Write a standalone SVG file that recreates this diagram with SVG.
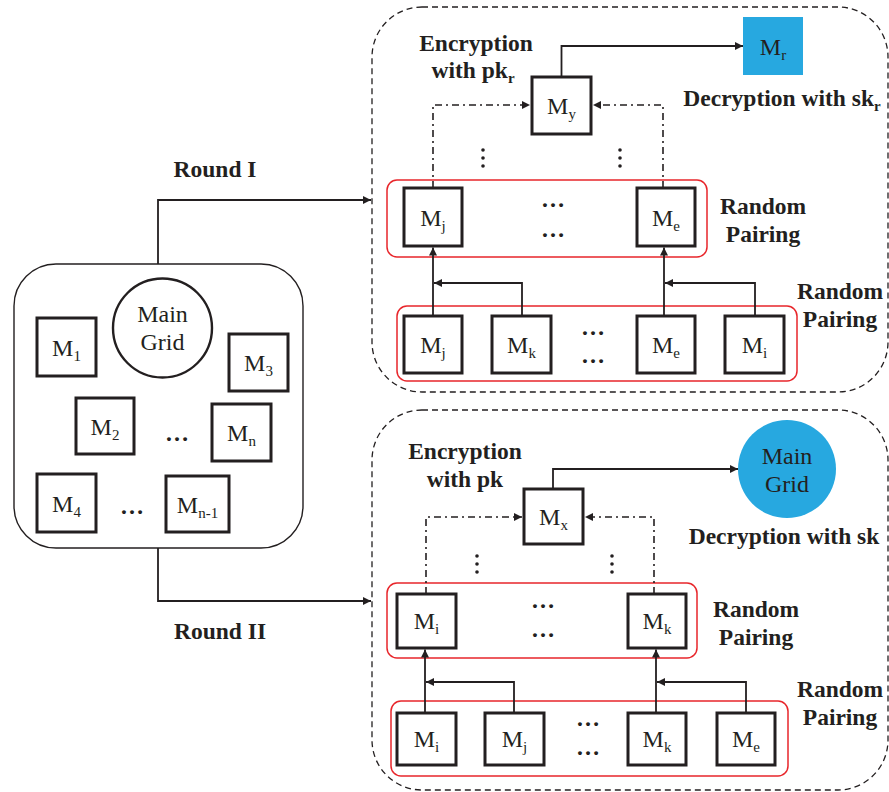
<svg xmlns="http://www.w3.org/2000/svg" width="889" height="792" viewBox="0 0 889 792">
  <style>
    .bg { fill: #ffffff; }
    .frame { fill: none; stroke: #231f20; stroke-width: 1.4; }
    .dashed { fill: none; stroke: #231f20; stroke-width: 1.3; stroke-dasharray: 6 4; }
    .pair { fill: none; stroke: #e8262b; stroke-width: 1.5; }
    .node { fill: #ffffff; stroke: #231f20; stroke-width: 3; }
    .blue { fill: #27a8e0; }
    .wire { fill: none; stroke: #231f20; stroke-width: 1.8; }
    .dashdot { fill: none; stroke: #231f20; stroke-width: 1.6; stroke-dasharray: 7 4 2 4; }
    .m { font-family: "Liberation Serif", "Times New Roman", serif; font-size: 24px; fill: #231f20; text-anchor: middle; }
    .sub { font-size: 15px; }
    .lbl { font-family: "Liberation Serif", "Times New Roman", serif; font-size: 23.5px; font-weight: bold; fill: #231f20; text-anchor: middle; }
    .ell { font-family: "Liberation Serif", "Times New Roman", serif; font-size: 24px; font-weight: bold; fill: #231f20; text-anchor: middle; }
    .vd { fill: #231f20; }
  </style>
  <defs>
    <marker id="arrow" viewBox="0 0 10 10" refX="10" refY="5" markerWidth="10" markerHeight="8" markerUnits="userSpaceOnUse" orient="auto">
      <path d="M0,0 L10,5 L0,10 z" fill="#231f20"/>
    </marker>
  </defs>

  <rect class="bg" x="0" y="0" width="889" height="792"/>

  <!-- grid of microgrids on the left -->
  <g id="grid">
    <rect class="frame" x="14" y="264" width="289" height="284" rx="42"/>
    <g id="main-grid">
      <circle class="node" cx="162.5" cy="328" r="49.5" style="stroke-width:2.4"/>
      <text class="m" x="162.5" y="322">Main</text>
      <text class="m" x="162.5" y="350">Grid</text>
    </g>
    <g id="m1"><rect class="node" x="37" y="318" width="59" height="58"/><text class="m" x="66.5" y="356">M<tspan class="sub" dy="5">1</tspan></text></g>
    <g id="m3"><rect class="node" x="229" y="334" width="59" height="57"/><text class="m" x="258.5" y="371">M<tspan class="sub" dy="5">3</tspan></text></g>
    <g id="m2"><rect class="node" x="76" y="398" width="58" height="56"/><text class="m" x="105" y="435">M<tspan class="sub" dy="5">2</tspan></text></g>
    <g id="mn"><rect class="node" x="212" y="404" width="59" height="57"/><text class="m" x="241.5" y="441">M<tspan class="sub" dy="5">n</tspan></text></g>
    <g id="m4"><rect class="node" x="37" y="474" width="59" height="58"/><text class="m" x="66.5" y="512">M<tspan class="sub" dy="5">4</tspan></text></g>
    <g id="mn1"><rect class="node" x="166" y="476" width="63" height="56"/><text class="m" x="197.5" y="513">M<tspan class="sub" dy="5">n-1</tspan></text></g>
    <text class="ell" x="177" y="441">…</text>
    <text class="ell" x="132" y="514">…</text>
  </g>

  <!-- round I cluster -->
  <g id="round1">
    <rect class="dashed" x="372" y="7" width="516" height="385" rx="50"/>
    <rect class="pair" x="387" y="180" width="320" height="77" rx="10"/>
    <rect class="pair" x="397" y="306" width="400" height="75" rx="10"/>
    <g id="my"><rect class="node" x="532" y="77" width="59" height="57"/><text class="m" x="561.5" y="114">M<tspan class="sub" dy="5">y</tspan></text></g>
    <g id="mr"><rect class="blue" x="743" y="17" width="60" height="58"/><text class="m" x="773" y="55">M<tspan class="sub" dy="5">r</tspan></text></g>
    <g id="mj-u1"><rect class="node" x="404" y="188" width="58" height="58"/><text class="m" x="433" y="226">M<tspan class="sub" dy="5">j</tspan></text></g>
    <g id="me-u1"><rect class="node" x="637" y="188" width="58" height="58"/><text class="m" x="666" y="226">M<tspan class="sub" dy="5">e</tspan></text></g>
    <g id="mj-1"><rect class="node" x="404" y="316" width="58" height="57"/><text class="m" x="433" y="353">M<tspan class="sub" dy="5">j</tspan></text></g>
    <g id="mk-1"><rect class="node" x="492" y="316" width="59" height="57"/><text class="m" x="521.5" y="353">M<tspan class="sub" dy="5">k</tspan></text></g>
    <g id="me-1"><rect class="node" x="637" y="316" width="58" height="57"/><text class="m" x="666" y="353">M<tspan class="sub" dy="5">e</tspan></text></g>
    <g id="mi-1"><rect class="node" x="725" y="316" width="59" height="57"/><text class="m" x="754.5" y="353">M<tspan class="sub" dy="5">i</tspan></text></g>
    <text class="ell" x="553" y="207">…</text>
    <text class="ell" x="553" y="237">…</text>
    <text class="ell" x="593" y="335">…</text>
    <text class="ell" x="593" y="363">…</text>
    <text class="lbl" x="476" y="51">Encryption</text>
    <text class="lbl" x="473" y="78">with pk<tspan class="sub" dy="5" style="font-size:15px">r</tspan></text>
    <text class="lbl" x="782" y="106">Decryption with sk<tspan class="sub" dy="5" style="font-size:15px">r</tspan></text>
    <text class="lbl" x="763" y="214">Random</text>
    <text class="lbl" x="763" y="242">Pairing</text>
    <text class="lbl" x="840" y="299">Random</text>
    <text class="lbl" x="840" y="327">Pairing</text>
    <g class="vd">
      <circle cx="483" cy="150" r="1.8"/><circle cx="483" cy="158" r="1.8"/><circle cx="483" cy="166" r="1.8"/>
      <circle cx="620" cy="150" r="1.8"/><circle cx="620" cy="158" r="1.8"/><circle cx="620" cy="166" r="1.8"/>
    </g>
  </g>

  <!-- round II cluster -->
  <g id="round2">
    <rect class="dashed" x="372" y="410" width="516" height="380" rx="50"/>
    <rect class="pair" x="387" y="583" width="310" height="75" rx="10"/>
    <rect class="pair" x="391" y="701" width="397" height="75" rx="10"/>
    <g id="mx"><rect class="node" x="524" y="489" width="59" height="55"/><text class="m" x="553.5" y="525">M<tspan class="sub" dy="5">x</tspan></text></g>
    <g id="main-grid-2"><circle class="blue" cx="787" cy="469" r="49"/><text class="m" x="787" y="464">Main</text><text class="m" x="787" y="492">Grid</text></g>
    <g id="mi-u2"><rect class="node" x="397" y="594" width="59" height="54"/><text class="m" x="426.5" y="629">M<tspan class="sub" dy="5">i</tspan></text></g>
    <g id="mk-u2"><rect class="node" x="628" y="594" width="58" height="54"/><text class="m" x="657" y="629">M<tspan class="sub" dy="5">k</tspan></text></g>
    <g id="mi-2"><rect class="node" x="397" y="713" width="59" height="52"/><text class="m" x="426.5" y="747">M<tspan class="sub" dy="5">i</tspan></text></g>
    <g id="mj-2"><rect class="node" x="485" y="713" width="59" height="52"/><text class="m" x="514.5" y="747">M<tspan class="sub" dy="5">j</tspan></text></g>
    <g id="mk-2"><rect class="node" x="628" y="713" width="58" height="52"/><text class="m" x="657" y="747">M<tspan class="sub" dy="5">k</tspan></text></g>
    <g id="me-2"><rect class="node" x="717" y="713" width="58" height="52"/><text class="m" x="746" y="747">M<tspan class="sub" dy="5">e</tspan></text></g>
    <text class="ell" x="543" y="608">…</text>
    <text class="ell" x="543" y="637">…</text>
    <text class="ell" x="588" y="726">…</text>
    <text class="ell" x="588" y="755">…</text>
    <text class="lbl" x="465" y="459">Encryption</text>
    <text class="lbl" x="465" y="487">with pk</text>
    <text class="lbl" x="784" y="544">Decryption with sk</text>
    <text class="lbl" x="756" y="617">Random</text>
    <text class="lbl" x="756" y="645">Pairing</text>
    <text class="lbl" x="840" y="697">Random</text>
    <text class="lbl" x="840" y="725">Pairing</text>
    <g class="vd">
      <circle cx="477" cy="556" r="1.8"/><circle cx="477" cy="564" r="1.8"/><circle cx="477" cy="572" r="1.8"/>
      <circle cx="612" cy="556" r="1.8"/><circle cx="612" cy="564" r="1.8"/><circle cx="612" cy="572" r="1.8"/>
    </g>
  </g>

  <text class="lbl" x="215" y="177">Round I</text>
  <text class="lbl" x="220" y="639">Round II</text>

  <!-- connectors -->
  <g id="connectors">
    <path class="wire" d="M158,264 V200 H371" marker-end="url(#arrow)"/>
    <path class="wire" d="M158,548 V601 H371" marker-end="url(#arrow)"/>

    <path class="wire" d="M561.5,77 V46 H743" marker-end="url(#arrow)"/>
    <path class="dashdot" d="M433,188 V105 H530" marker-end="url(#arrow)"/>
    <path class="dashdot" d="M663,188 V105 H593" marker-end="url(#arrow)"/>
    <path class="wire" d="M433,316 V247.5" marker-end="url(#arrow)"/>
    <path class="wire" d="M522,316 V283 H434" marker-end="url(#arrow)"/>
    <path class="wire" d="M664,316 V247.5" marker-end="url(#arrow)"/>
    <path class="wire" d="M755,316 V283 H665" marker-end="url(#arrow)"/>

    <path class="wire" d="M553,489 V469 H738" marker-end="url(#arrow)"/>
    <path class="dashdot" d="M426,594 V517 H522" marker-end="url(#arrow)"/>
    <path class="dashdot" d="M654,594 V517 H585" marker-end="url(#arrow)"/>
    <path class="wire" d="M425,713 V649.5" marker-end="url(#arrow)"/>
    <path class="wire" d="M514,713 V682 H426" marker-end="url(#arrow)"/>
    <path class="wire" d="M656,713 V649.5" marker-end="url(#arrow)"/>
    <path class="wire" d="M746,713 V682 H657" marker-end="url(#arrow)"/>
  </g>
</svg>
